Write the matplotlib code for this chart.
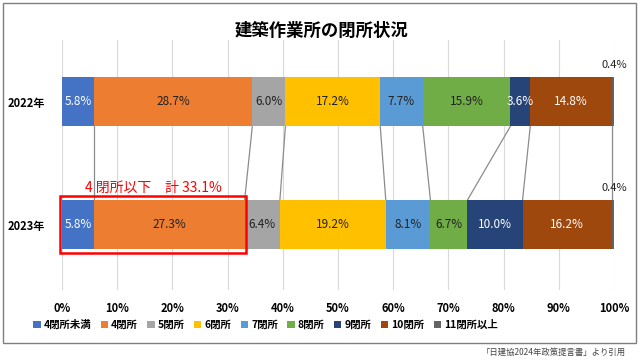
import matplotlib.pyplot as plt
import matplotlib.patches as patches
import numpy as np

plt.rcParams['font.family'] = ['Noto Sans CJK JP', 'DejaVu Sans']

years = ['2023年', '2022年']
categories = ['4閉所未満', '4閉所', '5閉所', '6閉所', '7閉所', '8閉所', '9閉所', '10閉所', '11閉所以上']
vals_2022 = [5.8, 28.7, 6.0, 17.2, 7.7, 15.9, 3.6, 14.8, 0.4]
vals_2023 = [5.8, 27.3, 6.4, 19.2, 8.1, 6.7, 10.0, 16.2, 0.4]
colors = ['#4472C4', '#ED7D31', '#A5A5A5', '#FFC000', '#5B9BD5',
          '#70AD47', '#264478', '#9E480E', '#636363']
label_colors = ['white', '#222222', '#222222', '#222222', '#222222',
                '#222222', 'white', 'white', '#222222']
xticks = [0, 10, 20, 30, 40, 50, 60, 70, 80, 90, 100]

fig = plt.figure(figsize=(6.4, 3.62), dpi=100)
ax = fig.add_axes([0.097, 0.199, 0.8625, 0.69])

data = np.array([vals_2023, vals_2022])
# 100% stacked
norm = data / data.sum(axis=1, keepdims=True) * 100
h = 0.4
left = np.zeros(2)
for i, cat in enumerate(categories):
    ax.barh([0, 1], norm[:, i], left=left, height=h, color=colors[i], label=cat, zorder=3)
    for j in range(2):
        v = data[j, i]
        cx = left[j] + norm[j, i] / 2
        if cat == '11閉所以上':
            ax.text(left[j] + norm[j, i], j + h / 2 + 0.06, '%.1f%%' % v, ha='center', va='bottom',
                    fontsize=8, color='#222222', zorder=5)
        else:
            ax.text(cx, j, '%.1f%%' % v, ha='center', va='center', fontsize=8.5,
                    color=label_colors[i], zorder=5)
    left = left + norm[:, i]

# connector lines between the two bars
cum = np.cumsum(norm, axis=1)
for k in range(len(categories) - 1):
    ax.plot([cum[1, k], cum[0, k]], [1 - h / 2, h / 2], color='#8c8c8c', lw=0.9, zorder=2)

# red box around 4閉所以下
ax.add_patch(patches.Rectangle((-0.3, -h / 2 - 0.03), cum[0, 1] + 0.6, h + 0.06, fill=False,
                               edgecolor='#FF0000', lw=1.8, zorder=6, clip_on=False))
ax.text(4.2, h / 2 + 0.1, '4 閉所以下　計 33.1%', color='#FF0000', fontsize=10,
        ha='left', va='center', zorder=6)

ax.set_xlim(0, 100)
ax.set_ylim(-0.53, 1.5)
ax.set_xticks(xticks)
ax.set_xticklabels(['%d%%' % t for t in xticks], fontsize=8, fontweight='bold')
ax.set_yticks([0, 1])
ax.set_yticklabels(years, fontsize=8, fontweight='bold')
ax.tick_params(length=0)
ax.tick_params(axis='x', pad=9)
ax.tick_params(axis='y', pad=12)
ax.grid(axis='x', color='#d9d9d9', lw=0.8, zorder=0)
for s in ax.spines.values():
    s.set_visible(False)

fig.text(0.503, 0.915, '建築作業所の閉所状況', ha='center', va='center', fontsize=12.5, fontweight='bold')

leg = fig.legend(loc='center', bbox_to_anchor=(0.415, 0.102), ncol=9, frameon=False,
                 handlelength=0.7, handleheight=0.7, handletextpad=0.3,
                 columnspacing=0.9, prop={'weight': 'bold', 'size': 7.5})

# outer frame
fig.add_artist(patches.Rectangle((0.005, 0.052), 0.989, 0.94, transform=fig.transFigure,
                                 fill=False, edgecolor='#7f7f7f', lw=1.0))
fig.text(0.977, 0.027, '「日建協2024年政策提言書」より引用', ha='right', va='center',
         fontsize=6, color='#444444')

fig.savefig('out.png', dpi=100)
